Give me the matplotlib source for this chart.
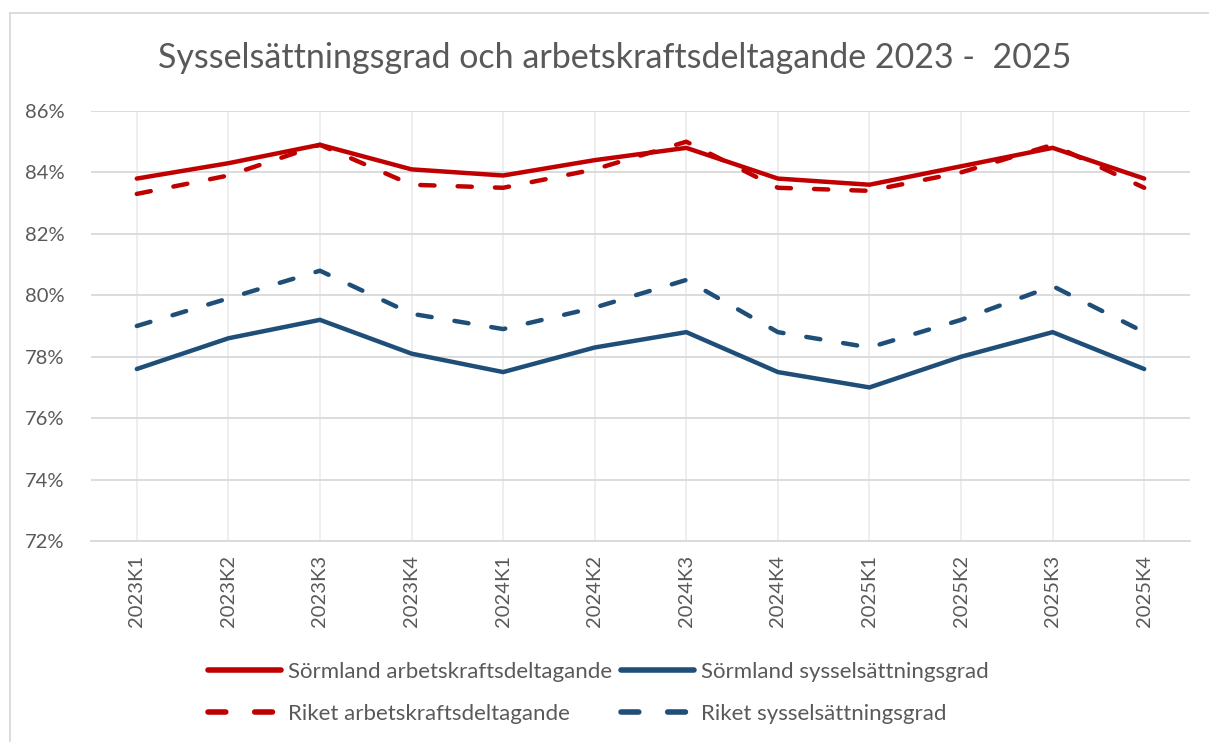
import matplotlib
matplotlib.use("Agg")
import matplotlib.pyplot as plt
from matplotlib.lines import Line2D
from matplotlib.ticker import FuncFormatter, MultipleLocator

categories = ["2023K1", "2023K2", "2023K3", "2023K4",
              "2024K1", "2024K2", "2024K3", "2024K4",
              "2025K1", "2025K2", "2025K3", "2025K4"]
sorm_arb = [83.8, 84.3, 84.9, 84.1, 83.9, 84.4, 84.8, 83.8, 83.6, 84.2, 84.8, 83.8]
sorm_syss = [77.6, 78.6, 79.2, 78.1, 77.5, 78.3, 78.8, 77.5, 77.0, 78.0, 78.8, 77.6]
riket_arb = [83.3, 83.9, 84.9, 83.6, 83.5, 84.1, 85.0, 83.5, 83.4, 84.0, 84.9, 83.5]
riket_syss = [79.0, 79.9, 80.8, 79.4, 78.9, 79.6, 80.5, 78.8, 78.3, 79.2, 80.3, 78.8]

title = "Sysselsättningsgrad och arbetskraftsdeltagande 2023 -  2025"
labels = ["Sörmland arbetskraftsdeltagande", "Sörmland sysselsättningsgrad",
          "Riket arbetskraftsdeltagande", "Riket sysselsättningsgrad"]

RED = "#C00000"
BLUE = "#1F4E79"
TXT = "#595959"

plt.rcParams["font.family"] = ["Lato", "DejaVu Sans"]

W, H = 1209, 742
fig = plt.figure(figsize=(W / 100, H / 100), dpi=100)
ax = fig.add_axes([91 / W, 1 - 541 / H, (1190 - 91) / W, (541 - 111) / H])

x = list(range(len(categories)))
lw = 3.2
dash = (3.2, 5.2)
l1, = ax.plot(x, sorm_arb, color=RED, lw=lw, solid_capstyle="round", solid_joinstyle="miter", zorder=4)
l2, = ax.plot(x, sorm_syss, color=BLUE, lw=lw, solid_capstyle="round", solid_joinstyle="miter", zorder=4)
l3, = ax.plot(x, riket_arb, color=RED, lw=lw, dashes=dash, dash_capstyle="round", zorder=3)
l4, = ax.plot(x, riket_syss, color=BLUE, lw=lw, dashes=dash, dash_capstyle="round", zorder=3)

ax.set_xlim(-0.5, len(categories) - 0.5)
ax.set_ylim(72, 86)
ax.yaxis.set_major_locator(MultipleLocator(2))
ax.yaxis.set_major_formatter(FuncFormatter(lambda v, p: f"{v:.0f}%"))
ax.set_xticks(x)
ax.set_xticklabels(categories, rotation=90)
ax.grid(axis="y", color="#D9D9D9", lw=1.3, zorder=0)
ax.grid(axis="x", color="#EDEDED", lw=1.3, zorder=0)
for s in ["top", "right", "left"]:
    ax.spines[s].set_visible(False)
ax.spines["bottom"].set_color("#D9D9D9")
ax.spines["bottom"].set_linewidth(1.3)
ax.tick_params(axis="both", length=0, colors=TXT, labelsize=14.5)
ax.tick_params(axis="y", pad=19)
ax.tick_params(axis="x", pad=10)

fig.text(615 / W, 1 - 58 / H, title, ha="center", va="center", fontsize=24.5, color=TXT)

leg = fig.legend([l1, l3, l2, l4], [labels[0], labels[2], labels[1], labels[3]],
                 ncol=2, loc="center", bbox_to_anchor=(598 / W, 1 - 693 / H),
                 frameon=False, fontsize=16, handlelength=3.3, handletextpad=0.3,
                 columnspacing=0.4, labelspacing=1.0, labelcolor=TXT)
for h in leg.legend_handles:
    h.set_linewidth(4)

# chart border (top and left visible)
fig.add_artist(Line2D([10 / W, 1.0], [1 - 13 / H, 1 - 13 / H], color="#D9D9D9", lw=1.3))
fig.add_artist(Line2D([10 / W, 10 / W], [1 - 13 / H, 0.0], color="#D9D9D9", lw=1.3))

fig.savefig("out.png", dpi=100)
